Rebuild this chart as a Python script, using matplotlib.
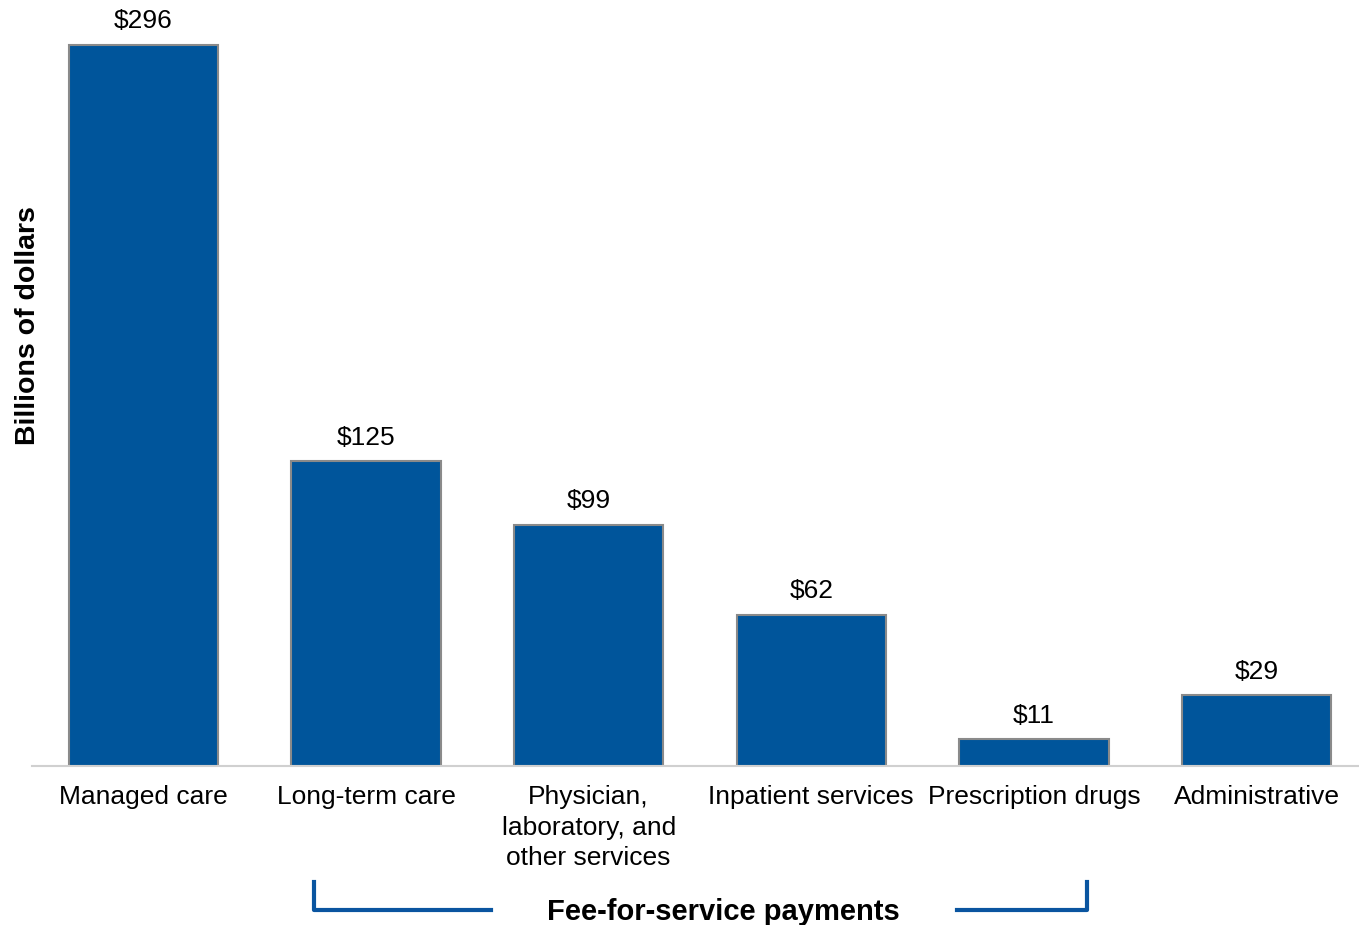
import matplotlib.pyplot as plt
from matplotlib.lines import Line2D

plt.rcParams['font.family'] = ['Liberation Sans', 'DejaVu Sans']

categories = ['Managed care', 'Long-term care', 'Physician,\nlaboratory, and\nother services',
              'Inpatient services', 'Prescription drugs', 'Administrative']
values = [296, 125, 99, 62, 11, 29]
labels = ['$296', '$125', '$99', '$62', '$11', '$29']

W, H = 1359, 925
fig = plt.figure(figsize=(W / 100, H / 100), dpi=100)
ax = fig.add_axes([32 / W, (H - 766) / H, (W - 32) / W, 766 / H])

x = range(len(categories))
bars = ax.bar(x, values, width=0.67, color='#00559b', edgecolor='#8a8a8a', linewidth=1.5)
for b, t in zip(bars, labels):
    ax.annotate(t, (b.get_x() + b.get_width() / 2, b.get_height()), xytext=(0, 17),
                textcoords='offset points', ha='center', va='center', fontsize=19)

ax.set_xlim(-0.5, 5.46)
ax.set_ylim(0, 314.4)
ax.set_xticks(list(x))
ax.set_xticklabels(categories, fontsize=19, linespacing=1.34, va='top')
ax.tick_params(axis='x', length=0, pad=14)
ax.set_yticks([])
for s in ['top', 'right', 'left']:
    ax.spines[s].set_visible(False)
ax.spines['bottom'].set_color('#d0d0d0')
ax.spines['bottom'].set_linewidth(1.5)

fig.text(28 / W, 1 - 326 / H, 'Billions of dollars', rotation=90, ha='center', va='center',
         fontsize=20.5, fontweight='bold')

# bracket for fee-for-service categories
def fx(px):
    return px / W

def fy(py):
    return 1 - py / H

c = '#0a55a0'
fig.add_artist(Line2D([fx(314), fx(314), fx(491)], [fy(882), fy(910), fy(910)], color=c, lw=3))
fig.add_artist(Line2D([fx(957), fx(1087), fx(1087)], [fy(910), fy(910), fy(882)], color=c, lw=3))
fig.text(fx(723), fy(912), 'Fee-for-service payments', ha='center', va='center',
         fontsize=21, fontweight='bold')

fig.savefig('out.png', dpi=100)
